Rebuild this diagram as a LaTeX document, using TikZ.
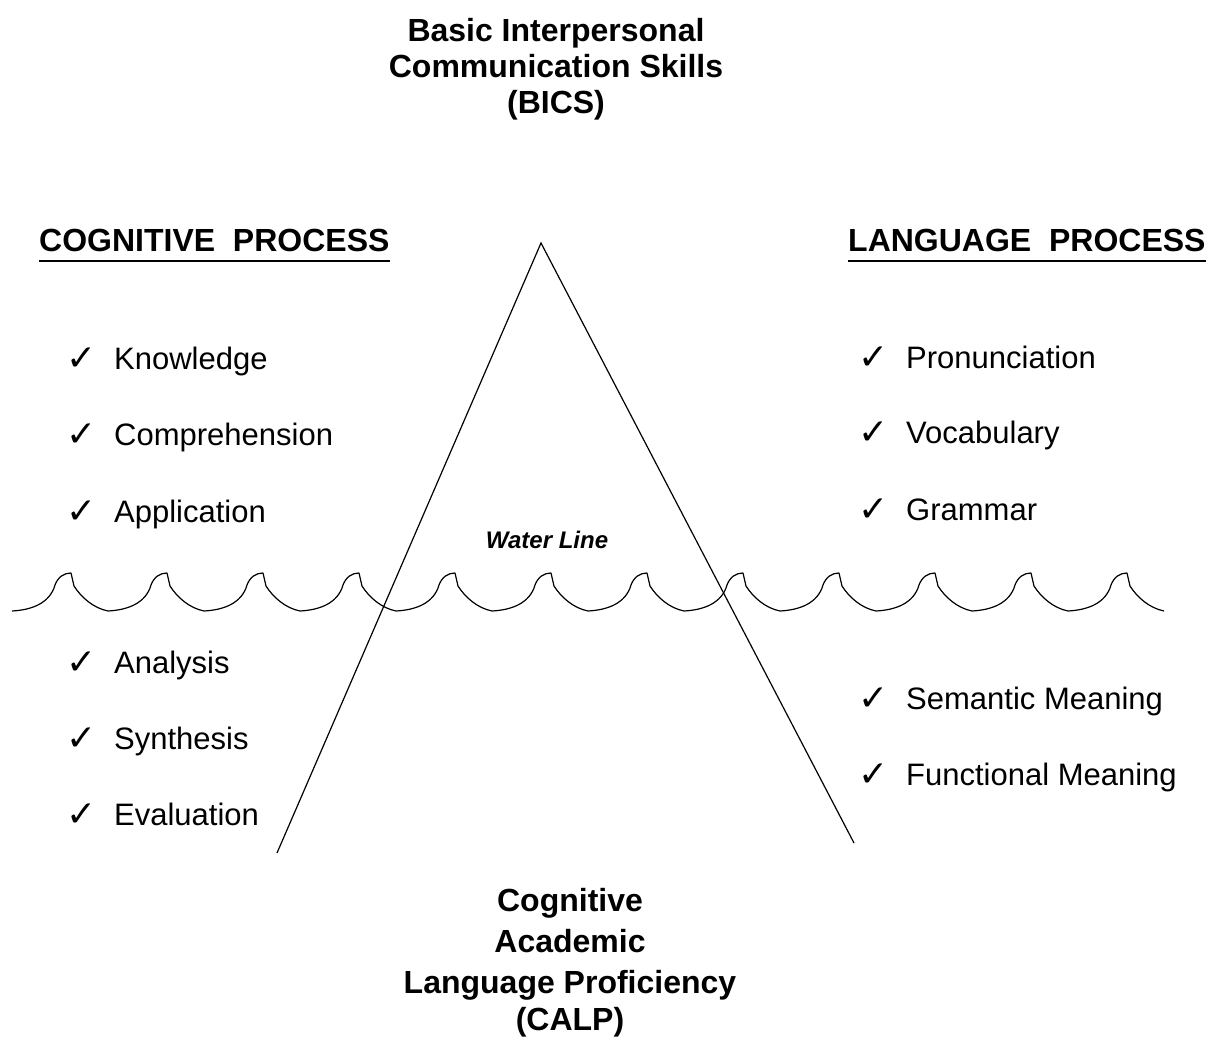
\documentclass[tikz,border=0pt]{standalone}
\usepackage{fontspec}
\setmainfont{Liberation Sans}
\newfontfamily\symfont{DejaVu Sans}
\begin{document}
\begin{tikzpicture}[x=1pt,y=-1pt,
  head/.style={font=\bfseries\fontsize{32}{38}\selectfont, inner sep=0pt, anchor=base},
  sechead/.style={font=\bfseries\fontsize{32}{38}\selectfont, inner sep=0pt, anchor=base west},
  item/.style={font=\fontsize{31}{37}\selectfont, inner sep=0pt, anchor=base west},
  tick/.style={font=\symfont\fontsize{36}{40}\selectfont, inner sep=0pt, anchor=base west},
  wl/.style={font=\bfseries\itshape\fontsize{24}{28}\selectfont, inner sep=0pt, anchor=base},
  wave/.style={line width=1.2pt, line join=round},
  edge/.style={line width=1.2pt},
  uline/.style={line width=2.6pt}]
\useasboundingbox (0,0) rectangle (1216,1040);

% title
\node[head] (bicsa) at (556,42) {Basic Interpersonal};
\node[head] (bicsb) at (556,78) {Communication Skills};
\node[head] (bicsc) at (556,114) {(BICS)};

% section heads
\node[sechead] (cog) at (39,252) {COGNITIVE~~PROCESS};
\node[sechead] (lang) at (848,252) {LANGUAGE~~PROCESS};
\draw[uline] ([yshift=-9pt]cog.base west) -- ([yshift=-9pt]cog.base east);
\draw[uline] ([yshift=-9pt]lang.base west) -- ([yshift=-9pt]lang.base east);

% left items
\foreach \n/\y/\txt in {k/370/Knowledge, c/446/Comprehension, a/522/Application,
                        an/673/Analysis, s/749/Synthesis, e/825/Evaluation}{
  \node[tick] (lt\n) at (66,\y+1) {✓};
  \node[item] (li\n) at (114,\y) {\txt};
}
% right items
\foreach \n/\y/\txt in {p/369/Pronunciation, v/444/Vocabulary, g/520/Grammar,
                        sm/709/Semantic Meaning, fm/785/Functional Meaning}{
  \node[tick] (rt\n) at (858,\y+1) {✓};
  \node[item] (ri\n) at (906,\y) {\txt};
}

% iceberg
\coordinate (apex) at (541,243);
\coordinate (bl) at (277,853);
\coordinate (br) at (854,843);
\draw[edge] (bl) -- (apex) -- (br);

% water line label
\node[wl] (water) at (547,548) {Water Line};

% waves
\foreach \k [evaluate=\k as \t using 12+96*\k] in {0,...,11}{
  \draw[wave] ({\t},611) .. controls ({\t+20},610) and ({\t+38},603) .. ({\t+43},585)
    .. controls ({\t+46},577) and ({\t+52},573) .. ({\t+59},573)
    -- ({\t+62},586) .. controls ({\t+69},597) and ({\t+81},608) .. ({\t+96},611);
}

% bottom
\node[head] (calpa) at (570,911) {Cognitive};
\node[head] (calpb) at (570,952) {Academic};
\node[head] (calpc) at (570,993) {Language Proficiency};
\node[head] (calpd) at (570,1030) {(CALP)};
\end{tikzpicture}
\end{document}
